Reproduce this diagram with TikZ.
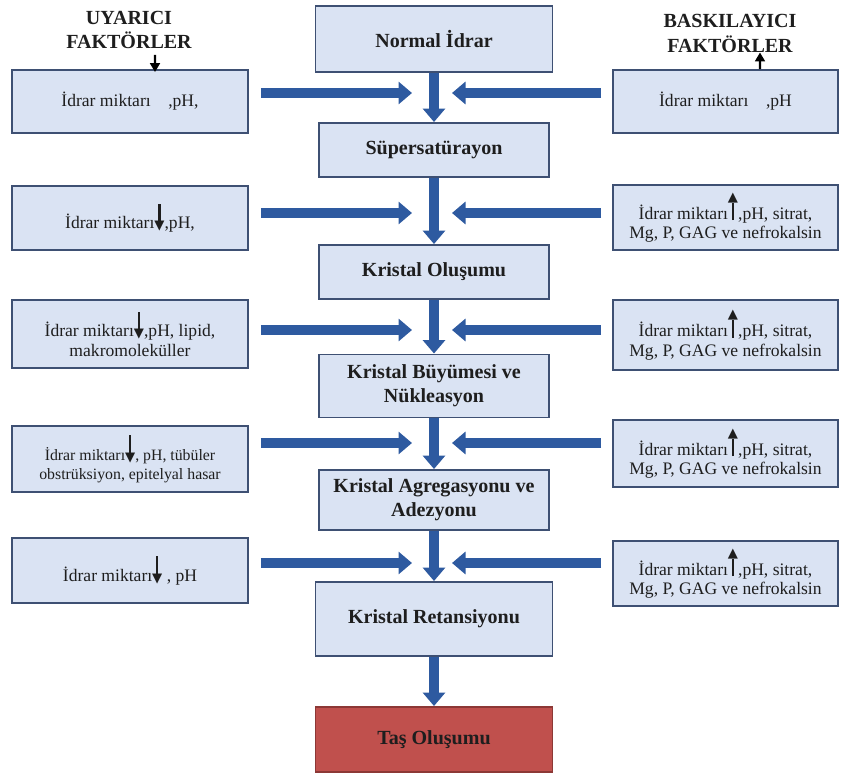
\documentclass[tikz,border=0pt]{standalone}
\usepackage{fontspec}
\setmainfont{Liberation Serif}
\newfontfamily\symbfont{DejaVu Sans}
\usetikzlibrary{arrows.meta, positioning, calc}

\definecolor{boxfill}{RGB}{218,227,243}
\definecolor{boxline}{RGB}{62,80,115}
\definecolor{flowblue}{RGB}{46,90,160}
\definecolor{stonefill}{RGB}{192,80,77}
\definecolor{stoneline}{RGB}{140,56,54}
\definecolor{ink}{RGB}{30,30,30}

% small arrow marks inside the factor texts
\newcommand{\dnmark}{\raisebox{-0.5pt}{\vbox{\offinterlineskip\halign{\hfil##\hfil\cr
  \rule{1.2pt}{10pt}\cr{\symbfont\fontsize{7.5}{7.5}\selectfont ▼}\cr}}}}
\newcommand{\upmark}{\raisebox{-0.5pt}{\vbox{\offinterlineskip\halign{\hfil##\hfil\cr
  {\symbfont\fontsize{7.5}{7.5}\selectfont ▲}\cr\rule{1.2pt}{10pt}\cr}}}}

\begin{document}
\begin{tikzpicture}[
  stage/.style={draw=boxline, line width=1.1pt, fill=boxfill, align=center,
    text=ink, font=\fontsize{11.4}{13.7}\selectfont\bfseries,
    minimum width=4.6cm, inner sep=2pt},
  factor/.style={draw=boxline, line width=1.1pt, fill=boxfill, align=center,
    text=ink, font=\fontsize{10}{11}\selectfont, inner sep=2pt},
  header/.style={align=center, text=ink, font=\fontsize{11.4}{13.7}\selectfont\bfseries},
  flow/.style={line width=0.2cm, draw=flowblue, -{Triangle[width=0.44cm,length=0.27cm]}},
  tinyarr/.style={line width=1.2pt, black, -{Triangle[length=5pt,width=5.5pt]}},
]
\useasboundingbox (0,0) rectangle (16.82,-15.5);

% Main stages (centre column)
\node[stage, minimum width=4.74cm, minimum height=1.32cm] (normal) at (8.68,-0.78) {Normal İdrar};
\node[stage, minimum height=1.08cm] (super) at (8.68,-3.00) {Süpersatürayon};
\node[stage, minimum height=1.08cm] (olusum) at (8.68,-5.44) {Kristal Oluşumu};
\node[stage, minimum height=1.26cm] (buyume) at (8.68,-7.72) {Kristal Büyümesi ve\\Nükleasyon};
\node[stage, minimum height=1.20cm] (agreg) at (8.68,-10.00) {Kristal Agregasyonu ve\\Adezyonu};
\node[stage, minimum width=4.74cm, minimum height=1.48cm] (retans) at (8.68,-12.38) {Kristal Retansiyonu};
\node[stage, draw=stoneline, fill=stonefill, minimum width=4.74cm, minimum height=1.30cm] (tas) at (8.68,-14.79) {Taş Oluşumu};

% Headers
\node[header] (uyarici) at (2.58,-0.60) {UYARICI\\FAKTÖRLER};
\node[header] (baskil) at (14.60,-0.67) {BASKILAYICI\\FAKTÖRLER};

% Promoting factors (left)
\node[factor, minimum width=4.72cm, minimum height=1.26cm] (l1) at (2.60,-2.03) {İdrar miktarı \enspace\ ,pH,};
\node[factor, minimum width=4.72cm, minimum height=1.28cm] (l2) at (2.60,-4.36) {İdrar miktarı\dnmark,pH,};
\node[factor, minimum width=4.72cm, minimum height=1.36cm] (l3) at (2.60,-6.68) {İdrar miktarı\dnmark,pH, lipid,\\makromoleküller};
\node[factor, minimum width=4.72cm, minimum height=1.32cm, font=\fontsize{9}{10.5}\selectfont] (l4) at (2.60,-9.18) {İdrar miktarı\dnmark, pH, tübüler\\obstrüksiyon, epitelyal hasar};
\node[factor, minimum width=4.72cm, minimum height=1.30cm] (l5) at (2.60,-11.41) {İdrar miktarı\dnmark\ , pH};

% Inhibiting factors (right)
\node[factor, minimum width=4.50cm, minimum height=1.26cm] (r1) at (14.51,-2.03) {İdrar miktarı \enspace\ ,pH};
\node[factor, minimum width=4.50cm, minimum height=1.30cm] (r2) at (14.51,-4.35) {İdrar miktarı\upmark,pH, sitrat,\\Mg, P, GAG ve nefrokalsin};
\node[factor, minimum width=4.50cm, minimum height=1.40cm] (r3) at (14.51,-6.70) {İdrar miktarı\upmark,pH, sitrat,\\Mg, P, GAG ve nefrokalsin};
\node[factor, minimum width=4.50cm, minimum height=1.34cm] (r4) at (14.51,-9.07) {İdrar miktarı\upmark,pH, sitrat,\\Mg, P, GAG ve nefrokalsin};
\node[factor, minimum width=4.50cm, minimum height=1.30cm] (r5) at (14.51,-11.47) {İdrar miktarı\upmark,pH, sitrat,\\Mg, P, GAG ve nefrokalsin};

% Header arrows into first boxes
\draw[tinyarr] ([xshift=0.52cm]uyarici.south) -- ([xshift=0.50cm,yshift=-0.06cm]l1.north);
\draw[tinyarr] ([xshift=0.69cm]r1.north) -- ([xshift=0.60cm,yshift=0.12cm]baskil.south);

% Vertical flow
\draw[flow] (normal) -- (super);
\draw[flow] (super) -- (olusum);
\draw[flow] (olusum) -- (buyume);
\draw[flow] (buyume) -- (agreg);
\draw[flow] (agreg) -- (retans);
\draw[flow] (retans) -- (tas);

% Side arrows towards the flow
\coordinate (m1) at (8.68,-1.86);
\coordinate (m2) at (8.68,-4.26);
\coordinate (m3) at (8.68,-6.60);
\coordinate (m4) at (8.68,-8.86);
\coordinate (m5) at (8.68,-11.26);
\foreach \i in {1,...,5}{
  \draw[flow] ($(l\i.east |- m\i)+(0.24,0)$) -- ($(m\i)+(-0.44,0)$);
  \draw[flow] ($(r\i.west |- m\i)+(-0.22,0)$) -- ($(m\i)+(0.36,0)$);
}
\end{tikzpicture}
\end{document}
